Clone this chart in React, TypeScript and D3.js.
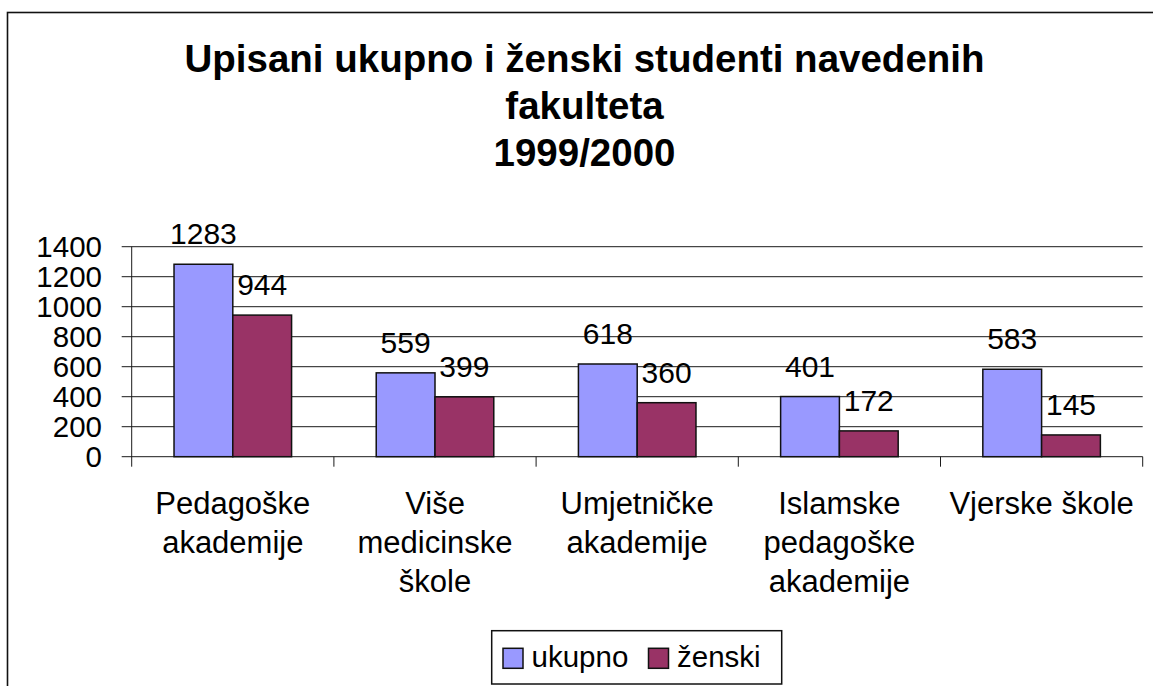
import React from "react";
import * as d3 from "d3";

const titleLines = ["Upisani ukupno i ženski studenti navedenih", "fakulteta", "1999/2000"];
const categories = [
  ["Pedagoške", "akademije"],
  ["Više", "medicinske", "škole"],
  ["Umjetničke", "akademije"],
  ["Islamske", "pedagoške", "akademije"],
  ["Vjerske škole"],
];
const seriesNames = ["ukupno", "ženski"];
const ukupno = [1283, 559, 618, 401, 583];
const zenski = [944, 399, 360, 172, 145];
const yTicks = [0, 200, 400, 600, 800, 1000, 1200, 1400];
const colors = ["#9999FF", "#993366"];

const W = 1153;
const H = 686;
const FONT = "'Liberation Sans', Arial, Helvetica, sans-serif";

export default function App() {
  const left = 131.7;
  const right = 1142.7;
  const top = 246.7;
  const bottom = 456.7;
  const keys = categories.map((_, i) => String(i));
  const x = d3.scaleBand<string>().domain(keys).range([left, right]).padding(0);
  const xs = d3
    .scaleBand<string>()
    .domain(seriesNames)
    .range([0, x.bandwidth()])
    .paddingInner(0)
    .paddingOuter(0.72);
  const y = d3.scaleLinear().domain([0, 1400]).range([bottom, top]);
  const series = [ukupno, zenski];
  const tickLen = 10;

  return (
    <svg
      width={W}
      height={H}
      style={{ position: "absolute", left: 0, top: 0, background: "#fff" }}
      fontFamily={FONT}
    >
      <rect x={0} y={0} width={W} height={H} fill="#fff" />
      {/* outer frame */}
      <rect x={7.5} y={12.5} width={W + 20} height={H + 20} fill="none" stroke="#111" strokeWidth={1.6} />

      {/* title */}
      {titleLines.map((t, i) => (
        <text
          key={i}
          x={584.5}
          y={72 + i * 47}
          textAnchor="middle"
          fontWeight="bold"
          fontSize={38.5}
          fill="#000"
        >
          {t}
        </text>
      ))}

      {/* gridlines */}
      {yTicks.map((t) => (
        <line
          key={t}
          x1={left - tickLen}
          x2={right}
          y1={y(t)}
          y2={y(t)}
          stroke="#1a1a1a"
          strokeWidth={1}
        />
      ))}
      {/* y axis */}
      <line x1={left} x2={left} y1={top} y2={bottom + tickLen} stroke="#1a1a1a" strokeWidth={1} />
      {/* category ticks */}
      {keys.map((k) => (
        <line
          key={k}
          x1={(x(k) as number) + x.bandwidth()}
          x2={(x(k) as number) + x.bandwidth()}
          y1={bottom}
          y2={bottom + tickLen}
          stroke="#1a1a1a"
          strokeWidth={1}
        />
      ))}

      {/* y tick labels */}
      {yTicks.map((t) => (
        <text key={t} x={102} y={y(t) + 10} textAnchor="end" fontSize={29.5} fill="#000">
          {t}
        </text>
      ))}

      {/* bars */}
      {series.map((vals, si) =>
        vals.map((v, ci) => {
          const bx = (x(String(ci)) as number) + (xs(seriesNames[si]) as number);
          return (
            <g key={`${si}-${ci}`}>
              <rect
                x={bx}
                y={y(v)}
                width={xs.bandwidth()}
                height={bottom - y(v)}
                fill={colors[si]}
                stroke="#111"
                strokeWidth={1.5}
              />
              <text
                x={bx + xs.bandwidth() / 2}
                y={y(v) - 20}
                textAnchor="middle"
                fontSize={30}
                fill="#000"
              >
                {v}
              </text>
            </g>
          );
        })
      )}

      {/* category labels */}
      {categories.map((lines, ci) => (
        <text
          key={ci}
          x={(x(String(ci)) as number) + x.bandwidth() / 2}
          y={514}
          textAnchor="middle"
          fontSize={31}
          fill="#000"
        >
          {lines.map((l, li) => (
            <tspan key={li} x={(x(String(ci)) as number) + x.bandwidth() / 2} dy={li === 0 ? 0 : 39}>
              {l}
            </tspan>
          ))}
        </text>
      ))}

      {/* legend */}
      <rect x={491.7} y={630.7} width={290} height={53.3} fill="#fff" stroke="#111" strokeWidth={1.5} />
      <rect x={503} y={648.3} width={20} height={20} fill={colors[0]} stroke="#111" strokeWidth={1.5} />
      <text x={531.5} y={667} fontSize={29.5} fill="#000">
        {seriesNames[0]}
      </text>
      <rect x={648.5} y={648.3} width={20} height={20} fill={colors[1]} stroke="#111" strokeWidth={1.5} />
      <text x={677} y={667} fontSize={29.5} fill="#000">
        {seriesNames[1]}
      </text>
    </svg>
  );
}
